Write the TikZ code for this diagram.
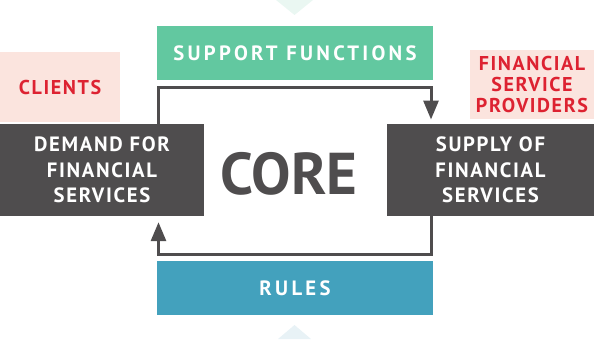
\documentclass[tikz,border=0pt]{standalone}
\usepackage{fontspec}
\setmainfont{PT Sans}
\newfontfamily\labelfont[LetterSpace=8]{PT Sans}
\newfontfamily\widefont[LetterSpace=16]{PT Sans}
\usetikzlibrary{arrows.meta,positioning}
\definecolor{coregray}{HTML}{4F4D4E}
\definecolor{supportgreen}{HTML}{62C8A0}
\definecolor{rulesblue}{HTML}{43A1BD}
\definecolor{actorpink}{HTML}{FBE4DE}
\definecolor{actorred}{HTML}{DD2231}
\definecolor{palegreen}{HTML}{EAF7F2}
\definecolor{paleblue}{HTML}{E8F2F6}

\begin{document}
\begin{tikzpicture}[x=1bp, y=-1bp,
    box/.style={inner sep=0pt, align=center, text=white, font=\labelfont\bfseries\fontsize{20.7bp}{25.5bp}\selectfont},
    band/.style={box, minimum width=276bp, minimum height=54bp, font=\widefont\bfseries\fontsize{20.7bp}{25.5bp}\selectfont},
    actor/.style={box, fill=actorpink, text=actorred, font=\labelfont\bfseries\fontsize{20bp}{21bp}\selectfont},
    core/.style={inner sep=0pt, text=coregray, font=\bfseries\fontsize{59bp}{59bp}\selectfont},
    flow/.style={-{Triangle[width=15bp, length=19bp]}, line width=3bp, coregray},
]
\useasboundingbox (0,0) rectangle (596,339);

% Faint pointers
\fill[palegreen] (276,0) -- (313,0) -- (294.5,15) -- cycle;
\fill[paleblue] (278,339) -- (311,339) -- (294.5,325) -- cycle;

% Functions and rules
\node[band, fill=supportgreen] (support) at (295,53) {SUPPORT FUNCTIONS};
\node[band, fill=rulesblue] (rules) at (295,288) {RULES};

% Actors
\node[actor, minimum width=120bp, minimum height=70bp] (clients) at (60,87) {CLIENTS};
\node[actor, minimum width=124bp, minimum height=69bp] (providers) at (532,84.5) {FINANCIAL\\SERVICE\\PROVIDERS};

% Demand and supply
\node[box, fill=coregray, minimum width=204bp, minimum height=92bp] (demand) at (102,170) {DEMAND FOR\\FINANCIAL\\SERVICES};
\node[box, fill=coregray, minimum width=207bp, minimum height=92bp] (supply) at (490.5,170) {SUPPLY OF\\FINANCIAL\\SERVICES};

% Core
\node[core] (core) at (289,173.5) {CORE};

% Loop
\coordinate (tl) at (158.5,87.5);
\coordinate (br) at (431,254.7);
\draw[flow, shorten >=4.3bp] (demand.north -| tl) |- (br |- tl) -- (supply.north -| br);
\draw[flow, shorten >=6bp] (supply.south -| br) |- (tl |- br) -- (demand.south -| tl);
\end{tikzpicture}
\end{document}
